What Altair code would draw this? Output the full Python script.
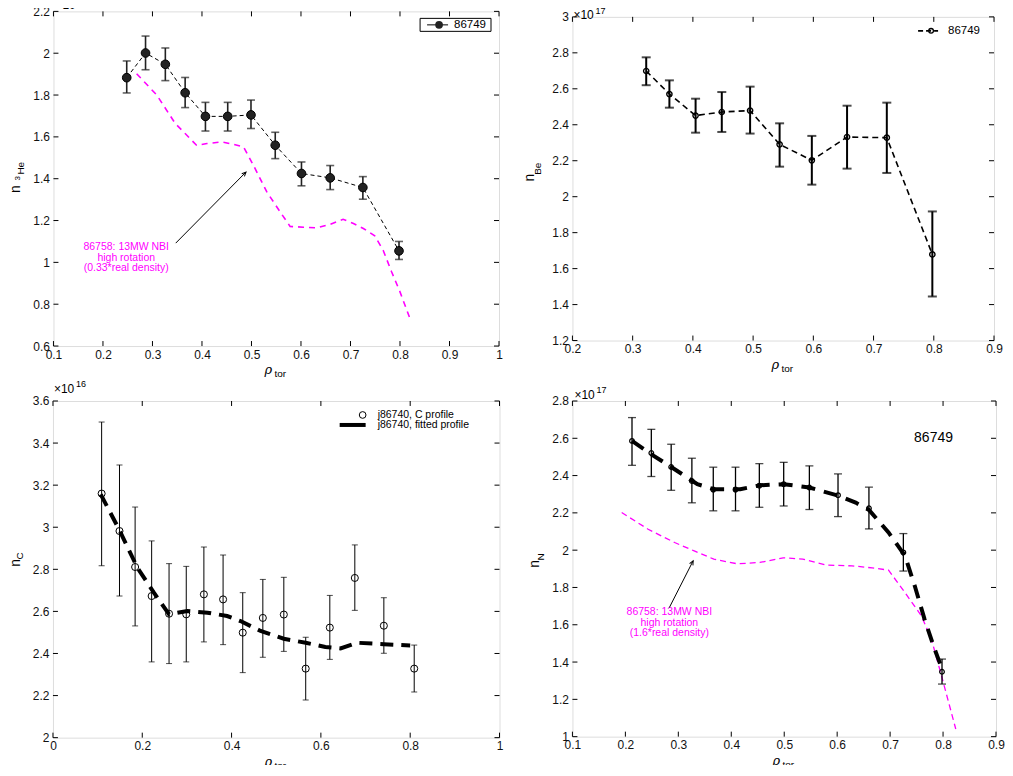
import math
import altair as alt
import pandas as pd

FONT = "Liberation Sans"
MAG = "#ff00ff"

# ---------------- Panel 1: 3He density ----------------
he_x = [0.248, 0.286, 0.326, 0.366, 0.407, 0.452, 0.499, 0.548, 0.601, 0.659, 0.725, 0.798]
he_y = [1.883, 2.001, 1.947, 1.811, 1.698, 1.698, 1.705, 1.560, 1.425, 1.404, 1.358, 1.055]
he_hi = [1.963, 2.082, 2.025, 1.884, 1.765, 1.765, 1.776, 1.622, 1.480, 1.463, 1.410, 1.100]
he_lo = [1.810, 1.921, 1.869, 1.740, 1.628, 1.628, 1.640, 1.496, 1.366, 1.348, 1.302, 1.014]
he_ref_x = [0.268, 0.309, 0.346, 0.366, 0.389, 0.410, 0.440, 0.463, 0.484, 0.504, 0.531, 0.558,
            0.578, 0.605, 0.632, 0.659, 0.685, 0.706, 0.726, 0.749, 0.766, 0.783, 0.800, 0.820]
he_ref_y = [1.902, 1.799, 1.664, 1.616, 1.560, 1.568, 1.576, 1.565, 1.552, 1.464, 1.337, 1.241,
            1.172, 1.168, 1.165, 1.182, 1.206, 1.186, 1.162, 1.127, 1.058, 0.955, 0.859, 0.732]
he_note = ["86758: 13MW NBI", "high rotation", "(0.33*real density)"]
he_note_x = [0.247, 0.247, 0.247]
he_note_y = [1.074, 1.022, 0.974]
he_arrow_x = [0.347, 0.489]
he_arrow_y = [1.092, 1.432]
he_xticks = [0.1, 0.2, 0.3, 0.4, 0.5, 0.6, 0.7, 0.8, 0.9, 1.0]
he_yticks = [0.6, 0.8, 1.0, 1.2, 1.4, 1.6, 1.8, 2.0, 2.2]

# ---------------- Panel 2: Be density ----------------
be_x = [0.3225, 0.361, 0.4045, 0.448, 0.495, 0.544, 0.5975, 0.656, 0.722, 0.7976]
be_y = [2.699, 2.571, 2.451, 2.471, 2.479, 2.291, 2.202, 2.332, 2.328, 1.679]
be_hi = [2.775, 2.647, 2.545, 2.582, 2.612, 2.408, 2.338, 2.506, 2.523, 1.918]
be_lo = [2.620, 2.495, 2.356, 2.360, 2.351, 2.167, 2.067, 2.156, 2.132, 1.445]
be_xticks = [0.2, 0.3, 0.4, 0.5, 0.6, 0.7, 0.8, 0.9]
be_yticks = [1.2, 1.4, 1.6, 1.8, 2.0, 2.2, 2.4, 2.6, 2.8, 3.0]

# ---------------- Panel 3: C density ----------------
c_x = [0.109, 0.149, 0.184, 0.221, 0.260, 0.2985, 0.338, 0.381, 0.425, 0.470, 0.517, 0.566,
       0.620, 0.676, 0.741, 0.809]
c_y = [3.160, 2.982, 2.811, 2.673, 2.589, 2.586, 2.681, 2.657, 2.499, 2.569, 2.585, 2.328,
       2.523, 2.759, 2.532, 2.328]
c_hi = [3.500, 3.296, 3.096, 2.935, 2.827, 2.814, 2.906, 2.868, 2.689, 2.752, 2.762, 2.477,
        2.676, 2.916, 2.665, 2.440]
c_lo = [2.817, 2.673, 2.531, 2.360, 2.352, 2.360, 2.455, 2.442, 2.309, 2.382, 2.410, 2.179,
        2.372, 2.605, 2.401, 2.217]
c_fit_x = [0.107, 0.148, 0.189, 0.226, 0.260, 0.301, 0.346, 0.390, 0.420, 0.465, 0.517, 0.566,
           0.610, 0.644, 0.681, 0.741, 0.800]
c_fit_y = [3.156, 2.990, 2.808, 2.689, 2.586, 2.602, 2.594, 2.578, 2.554, 2.507, 2.470, 2.451,
           2.431, 2.424, 2.451, 2.444, 2.438]
c_xticks = [0.0, 0.2, 0.4, 0.6, 0.8, 1.0]
c_yticks = [2.0, 2.2, 2.4, 2.6, 2.8, 3.0, 3.2, 3.4, 3.6]

# ---------------- Panel 4: N density ----------------
n_x = [0.2125, 0.249, 0.2865, 0.3256, 0.366, 0.408, 0.453, 0.499, 0.5475, 0.6016, 0.660, 0.725, 0.798]
n_y = [2.586, 2.521, 2.446, 2.371, 2.325, 2.325, 2.346, 2.354, 2.336, 2.295, 2.225, 1.988, 1.348]
n_hi = [2.711, 2.648, 2.568, 2.493, 2.445, 2.445, 2.464, 2.471, 2.452, 2.409, 2.338, 2.089, 1.416]
n_lo = [2.455, 2.395, 2.321, 2.254, 2.211, 2.211, 2.230, 2.237, 2.218, 2.180, 2.114, 1.888, 1.282]
n_fit_x = [0.2125, 0.249, 0.2865, 0.336, 0.367, 0.417, 0.454, 0.499, 0.5475, 0.6035, 0.635, 0.660,
           0.697, 0.728, 0.7465, 0.765, 0.784, 0.798]
n_fit_y = [2.586, 2.514, 2.446, 2.354, 2.327, 2.327, 2.348, 2.354, 2.336, 2.291, 2.255, 2.216,
           2.095, 1.970, 1.809, 1.630, 1.470, 1.363]
n_ref_x = [0.193, 0.243, 0.293, 0.330, 0.367, 0.411, 0.454, 0.498, 0.535, 0.579, 0.628, 0.666,
           0.697, 0.728, 0.759, 0.778, 0.797, 0.824]
n_ref_y = [2.202, 2.112, 2.041, 1.996, 1.952, 1.927, 1.934, 1.959, 1.952, 1.920, 1.916, 1.905,
           1.893, 1.773, 1.648, 1.523, 1.327, 1.041]
n_note = ["86758: 13MW NBI", "high rotation", "(1.6*real density)"]
n_note_x = [0.283, 0.283, 0.283]
n_note_y = [1.666, 1.607, 1.554]
n_arrow_x = [0.283, 0.328]
n_arrow_y = [1.692, 1.943]
n_xticks = [0.1, 0.2, 0.3, 0.4, 0.5, 0.6, 0.7, 0.8, 0.9]
n_yticks = [1.0, 1.2, 1.4, 1.6, 1.8, 2.0, 2.2, 2.4, 2.6, 2.8]

ARROW = "M -0.45 1 L 0 0 L 0.45 1"
ONE = pd.DataFrame({"a": [0]})
LABEL_SIZE = 12


def txt(x, y, s, size=11, angle=0, align="left", color="black", style="normal", font=FONT):
    kw = dict(text=s, fontSize=size, align=align, baseline="middle", color=color,
              font=font, fontStyle=style)
    if angle:
        kw["angle"] = angle
    return alt.Chart(ONE).mark_text(**kw).encode(x=alt.value(x), y=alt.value(y))


def panel(w, h, xdom, ydom, xticks, yticks, exp, ysub, ypos, sup_dy=5):
    xs = alt.Scale(domain=xdom, nice=False, zero=False)
    ys = alt.Scale(domain=ydom, nice=False, zero=False)
    xax = alt.Axis(values=xticks, ticks=False, domain=False, grid=False, title=None,
                   labelFont=FONT, labelFontSize=LABEL_SIZE, labelPadding=3, format="~g",
                   labelColor="#111", labelFlush=False)
    yax = alt.Axis(values=yticks, ticks=False, domain=False, grid=False, title=None,
                   labelFont=FONT, labelFontSize=LABEL_SIZE, labelPadding=4, format="~g",
                   labelColor="#111")

    def X(f="x"):
        return alt.X(f + ":Q", scale=xs, axis=xax)

    def Y(f="y"):
        return alt.Y(f + ":Q", scale=ys, axis=yax)

    L = 5
    tx = pd.DataFrame({"x": xticks})
    ty = pd.DataFrame({"y": yticks})
    layers = [
        alt.Chart(tx).mark_rule(color="black", strokeWidth=1).encode(x=X(), y=alt.value(h), y2=alt.value(h - L)),
        alt.Chart(tx).mark_rule(color="black", strokeWidth=1).encode(x=X(), y=alt.value(0), y2=alt.value(L)),
        alt.Chart(ty).mark_rule(color="black", strokeWidth=1).encode(y=Y(), x=alt.value(0), x2=alt.value(L)),
        alt.Chart(ty).mark_rule(color="black", strokeWidth=1).encode(y=Y(), x=alt.value(w - L), x2=alt.value(w)),
    ]
    nx, ny = ypos
    layers.append(txt(nx, ny, "n", size=14, angle=270, align="center"))
    for (sx, sy, s, sz) in ysub:
        layers.append(txt(sx, sy, s, size=sz, angle=270, align="center"))
    layers.append(txt(w / 2 - 8, h + 24, "ρ", size=13, align="center", style="italic",
                      font="DejaVu Serif"))
    layers.append(txt(w / 2 + 4, h + 28, "tor", size=10, align="center"))
    ex, ey, e = exp
    layers.append(txt(ex, ey, "×10", size=12))
    layers.append(txt(ex + 22, ey - sup_dy, e, size=9))
    return X, Y, layers


def errbars(X, Y, df, width, cap, color="black"):
    return [
        alt.Chart(df).mark_rule(color=color, strokeWidth=width).encode(x=X(), y=Y("lo"), y2="hi:Q"),
        alt.Chart(df).mark_tick(orient="horizontal", size=cap, thickness=width, color=color).encode(x=X(), y=Y("hi")),
        alt.Chart(df).mark_tick(orient="horizontal", size=cap, thickness=width, color=color).encode(x=X(), y=Y("lo")),
    ]


def arrow(X, Y, ax, ay, w, h, xdom, ydom, color="black"):
    dxp = (ax[1] - ax[0]) * w / (xdom[1] - xdom[0])
    dyp = -(ay[1] - ay[0]) * h / (ydom[1] - ydom[0])
    ang = math.degrees(math.atan2(dxp, -dyp)) % 360
    df = pd.DataFrame({"x": ax, "y": ay, "o": [0, 1]})
    head = pd.DataFrame({"x": [ax[1]], "y": [ay[1]]})
    return [
        alt.Chart(df).mark_line(color=color, strokeWidth=1).encode(x=X(), y=Y(), order="o:Q"),
        alt.Chart(head).mark_point(shape=ARROW, size=70, angle=ang, filled=False, color=color,
                                   strokeWidth=1, opacity=1).encode(x=X(), y=Y()),
    ]


# ---------- panel 1 ----------
W1, H1 = 446, 335
X, Y, L1 = panel(W1, H1, [0.1, 1.0], [0.6, 2.2], he_xticks, he_yticks, (2, -6, "18"),
                 [(-35, 167, "3", 8), (-32, 157, "He", 10)], ypos=(-37, 178), sup_dy=4)
d1 = pd.DataFrame({"x": he_x, "y": he_y, "hi": he_hi, "lo": he_lo})
r1 = pd.DataFrame({"x": he_ref_x, "y": he_ref_y})
nt1 = pd.DataFrame({"x": he_note_x, "y": he_note_y, "t": he_note})
L1 += [
    alt.Chart(r1).mark_line(color=MAG, strokeWidth=1.6, strokeDash=[6, 5]).encode(x=X(), y=Y()),
    alt.Chart(d1).mark_line(color="black", strokeWidth=1, strokeDash=[4, 3]).encode(x=X(), y=Y()),
]
L1 += errbars(X, Y, d1, 1.6, 8, color="#222")
L1 += [
    alt.Chart(d1).mark_point(shape="circle", filled=True, size=75, color="#222", stroke="black",
                             strokeWidth=1, opacity=1).encode(x=X(), y=Y()),
    alt.Chart(nt1).mark_text(color=MAG, font=FONT, fontSize=10.5, align="center", baseline="middle").encode(
        x=X(), y=Y(), text="t:N"),
]
L1 += arrow(X, Y, he_arrow_x, he_arrow_y, W1, H1, [0.1, 1.0], [0.6, 2.2])
L1 += [
    alt.Chart(ONE).mark_rect(fill="white", stroke="black", strokeWidth=1).encode(
        x=alt.value(367), x2=alt.value(438), y=alt.value(7), y2=alt.value(20)),
    alt.Chart(ONE).mark_rule(color="black", strokeWidth=1).encode(
        x=alt.value(374), x2=alt.value(395), y=alt.value(13.5)),
    alt.Chart(ONE).mark_point(shape="circle", filled=True, size=60, color="#222", opacity=1).encode(
        x=alt.value(386), y=alt.value(13.5)),
    txt(401, 13.5, "86749", size=11.5),
]
p1 = alt.layer(*L1).properties(width=W1, height=H1)

# ---------- panel 2 ----------
W2, H2 = 422, 324
X, Y, L2 = panel(W2, H2, [0.2, 0.9], [1.2, 3.0], be_xticks, be_yticks, (1, -2, "17"),
                 [(-34, 152, "Be", 10)], ypos=(-42, 161), sup_dy=3.5)
d2 = pd.DataFrame({"x": be_x, "y": be_y, "hi": be_hi, "lo": be_lo})
L2 += [alt.Chart(d2).mark_line(color="black", strokeWidth=1.6, strokeDash=[6, 4]).encode(x=X(), y=Y())]
L2 += errbars(X, Y, d2, 2, 9)
L2 += [
    alt.Chart(d2).mark_point(shape="circle", filled=False, size=28, color="black", strokeWidth=1.4,
                             opacity=1).encode(x=X(), y=Y()),
    alt.Chart(ONE).mark_rule(color="black", strokeWidth=1.6, strokeDash=[5, 3]).encode(
        x=alt.value(346), x2=alt.value(366), y=alt.value(14)),
    alt.Chart(ONE).mark_point(shape="circle", filled=False, size=22, color="black", strokeWidth=1.3,
                              opacity=1).encode(x=alt.value(359), y=alt.value(14)),
    txt(376, 14, "86749", size=11.5),
]
p2 = alt.layer(*L2).properties(width=W2, height=H2)

# ---------- panel 3 ----------
W3, H3 = 447, 337
X, Y, L3 = panel(W3, H3, [0.0, 1.0], [2.0, 3.6], c_xticks, c_yticks, (1, -12, "16"),
                 [(-33, 155, "C", 10)], ypos=(-37, 162))
d3 = pd.DataFrame({"x": c_x, "y": c_y, "hi": c_hi, "lo": c_lo})
f3 = pd.DataFrame({"x": c_fit_x, "y": c_fit_y})
L3 += [alt.Chart(f3).mark_line(color="black", strokeWidth=4, strokeDash=[13, 8]).encode(x=X(), y=Y())]
L3 += errbars(X, Y, d3, 1, 6)
L3 += [
    alt.Chart(d3).mark_point(shape="circle", filled=False, size=50, color="black", strokeWidth=1,
                             opacity=1).encode(x=X(), y=Y()),
    alt.Chart(ONE).mark_point(shape="circle", filled=False, size=45, color="black", strokeWidth=1,
                              opacity=1).encode(x=alt.value(310), y=alt.value(14)),
    txt(325, 14, "j86740, C profile", size=10.5),
    alt.Chart(ONE).mark_rule(color="black", strokeWidth=4).encode(
        x=alt.value(287), x2=alt.value(313), y=alt.value(24)),
    txt(325, 24, "j86740, fitted profile", size=10.5),
]
p3 = alt.layer(*L3).properties(width=W3, height=H3)

# ---------- panel 4 ----------
W4, H4 = 424, 336
X, Y, L4 = panel(W4, H4, [0.1, 0.9], [1.0, 2.8], n_xticks, n_yticks, (2, -6, "17"),
                 [(-31, 156, "N", 10)], ypos=(-37, 163))
d4 = pd.DataFrame({"x": n_x, "y": n_y, "hi": n_hi, "lo": n_lo})
f4 = pd.DataFrame({"x": n_fit_x, "y": n_fit_y})
r4 = pd.DataFrame({"x": n_ref_x, "y": n_ref_y})
nt4 = pd.DataFrame({"x": n_note_x, "y": n_note_y, "t": n_note})
L4 += [
    alt.Chart(r4).mark_line(color=MAG, strokeWidth=1.3, strokeDash=[6, 4]).encode(x=X(), y=Y()),
    alt.Chart(f4).mark_line(color="black", strokeWidth=4, strokeDash=[14, 9]).encode(x=X(), y=Y()),
]
L4 += errbars(X, Y, d4, 1.3, 8)
L4 += [
    alt.Chart(d4).mark_point(shape="circle", filled=False, size=22, color="black", strokeWidth=1.2,
                             opacity=1).encode(x=X(), y=Y()),
    alt.Chart(nt4).mark_text(color=MAG, font=FONT, fontSize=10.5, align="center", baseline="middle").encode(
        x=X(), y=Y(), text="t:N"),
    txt(342, 37, "86749", size=14),
]
L4 += arrow(X, Y, n_arrow_x, n_arrow_y, W4, H4, [0.1, 0.9], [1.0, 2.8])
p4 = alt.layer(*L4).properties(width=W4, height=H4)

chart = alt.concat(p1, p2, p3, p4, columns=2, spacing={"row": 55, "column": 73},
                   bounds="flush", center=True).properties(
    padding={"left": 0, "top": -12, "right": 0, "bottom": -7}
).configure_view(stroke="black", strokeWidth=1).configure(background="white")

chart.save("out.html", embed_options={"renderer": "svg", "actions": False})
